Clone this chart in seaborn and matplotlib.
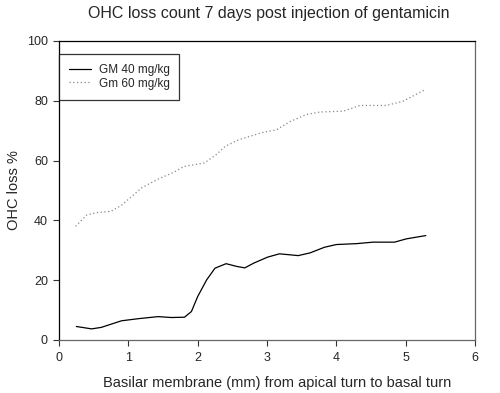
import pandas as pd
import matplotlib
matplotlib.use("Agg")
import matplotlib.pyplot as plt
import seaborn as sns

# values
x_gm40 = [0.25, 0.47, 0.61, 0.90, 1.14, 1.43, 1.62, 1.81, 1.91, 2.0, 2.13, 2.25,
          2.41, 2.56, 2.68, 2.81, 3.01, 3.18, 3.45, 3.62, 3.83, 4.0, 4.29, 4.53,
          4.84, 5.01, 5.29]
y_gm40 = [4.5, 3.7, 4.2, 6.4, 7.1, 7.8, 7.5, 7.6, 9.5, 14.5, 20.1, 24.0,
          25.5, 24.6, 24.1, 25.7, 27.7, 28.8, 28.2, 29.1, 31.0, 31.9, 32.2, 32.7,
          32.7, 33.8, 34.9]

x_gm60 = [0.24, 0.4, 0.55, 0.75, 0.9, 1.0, 1.2, 1.45, 1.65, 1.8, 2.1, 2.27,
          2.4, 2.6, 2.94, 3.14, 3.33, 3.57, 3.76, 4.1, 4.34, 4.72, 4.96, 5.29]
y_gm60 = [38.0, 41.8, 42.6, 43.0, 45.0, 47.0, 51.0, 54.0, 56.0, 58.0, 59.2, 62.0,
          64.8, 67.0, 69.4, 70.3, 73.0, 75.4, 76.2, 76.5, 78.4, 78.4, 79.8, 83.8]

labels = ["GM 40 mg/kg", "Gm 60 mg/kg"]

df = pd.concat([
    pd.DataFrame({"x": x_gm40, "y": y_gm40, "group": labels[0]}),
    pd.DataFrame({"x": x_gm60, "y": y_gm60, "group": labels[1]}),
])

sns.set_theme(style="ticks")
plt.rcParams["font.family"] = ["Liberation Sans", "DejaVu Sans"]

fig = plt.figure(figsize=(5.0, 3.93), dpi=100)
ax = fig.add_axes([0.118, 0.135, 0.832, 0.761])

sns.lineplot(data=df[df.group == labels[0]], x="x", y="y", ax=ax,
             color="black", lw=0.9, label=labels[0])
sns.lineplot(data=df[df.group == labels[1]], x="x", y="y", ax=ax,
             color="#888888", lw=0.9, linestyle=(0, (1, 2)), label=labels[1])

ax.set_xlim(0, 6)
ax.set_ylim(0, 100)
ax.set_xticks(range(0, 7))
ax.set_yticks(range(0, 101, 20))
ax.tick_params(labelsize=9, length=4, width=0.8, color="#333333", pad=4)
ax.tick_params(axis="x", pad=5)

for side in ["top", "left"]:
    ax.spines[side].set_color("black")
for side in ["bottom", "right"]:
    ax.spines[side].set_color("#666666")
for s in ax.spines.values():
    s.set_linewidth(0.9)

ax.set_xlabel("Basilar membrane (mm) from apical turn to basal turn", fontsize=10.5, labelpad=8)
ax.xaxis.label.set_x(0.524)
ax.set_ylabel("OHC loss %", fontsize=10.5, labelpad=4)
fig.suptitle("OHC loss count 7 days post injection of gentamicin", fontsize=11.5,
             x=0.538, y=0.985)

leg = ax.legend(loc="upper left", bbox_to_anchor=(0.0, 0.957), fontsize=8.5,
                frameon=True, fancybox=False, borderaxespad=0.0,
                handlelength=1.9, handletextpad=0.6, borderpad=0.85,
                labelspacing=0.15)
leg.get_frame().set_edgecolor("black")
leg.get_frame().set_linewidth(0.9)

fig.savefig("out.png", dpi=100)
